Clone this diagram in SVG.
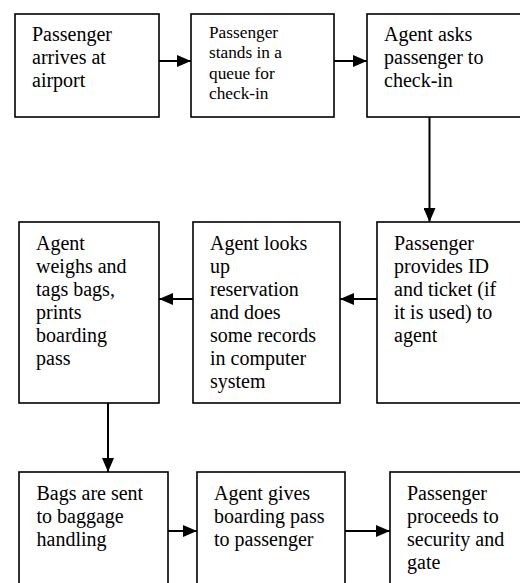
<svg xmlns="http://www.w3.org/2000/svg" width="520" height="583" viewBox="0 0 520 583">
<style>
.box{fill:#fff;stroke:#000;stroke-width:1.6}
.t{font-family:"Liberation Serif","Times New Roman",serif;font-size:20px;fill:#000}
.s{font-family:"Liberation Serif","Times New Roman",serif;font-size:17.3px;fill:#000}
.c{stroke:#000;stroke-width:2;fill:none;marker-end:url(#ah)}
</style>
<defs>
<marker id="ah" markerUnits="userSpaceOnUse" markerWidth="14" markerHeight="12" refX="14" refY="6" orient="auto">
<path d="M0,0 L14,6 L0,12 z" fill="#000"/>
</marker>
</defs>
<rect width="520" height="583" fill="#fff"/>
<g id="n1"><rect class="box" x="15" y="14" width="144" height="103"/>
<text class="t" x="32"><tspan x="32" y="41">Passenger</tspan><tspan x="32" y="64">arrives at</tspan><tspan x="32" y="87">airport</tspan></text></g>
<g id="n2"><rect class="box" x="191" y="14" width="143" height="103"/>
<text class="s"><tspan x="209" y="38">Passenger</tspan><tspan x="209" y="58">stands in a</tspan><tspan x="209" y="79">queue for</tspan><tspan x="209" y="99">check-in</tspan></text></g>
<g id="n3"><rect class="box" x="367" y="14" width="170" height="103"/>
<text class="t"><tspan x="384" y="41">Agent asks</tspan><tspan x="384" y="64">passenger to</tspan><tspan x="384" y="87">check-in</tspan></text></g>
<g id="n4"><rect class="box" x="19" y="222" width="140" height="181"/>
<text class="t"><tspan x="36" y="250">Agent</tspan><tspan x="36" y="273">weighs and</tspan><tspan x="36" y="296">tags bags,</tspan><tspan x="36" y="319">prints</tspan><tspan x="36" y="342">boarding</tspan><tspan x="36" y="365">pass</tspan></text></g>
<g id="n5"><rect class="box" x="193" y="222" width="147" height="181"/>
<text class="t"><tspan x="210" y="250">Agent looks</tspan><tspan x="210" y="273">up</tspan><tspan x="210" y="296">reservation</tspan><tspan x="210" y="319">and does</tspan><tspan x="210" y="342">some records</tspan><tspan x="210" y="365">in computer</tspan><tspan x="210" y="388">system</tspan></text></g>
<g id="n6"><rect class="box" x="377" y="222" width="160" height="181"/>
<text class="t"><tspan x="394" y="250">Passenger</tspan><tspan x="394" y="273">provides ID</tspan><tspan x="394" y="296">and ticket (if</tspan><tspan x="394" y="319">it is used) to</tspan><tspan x="394" y="342">agent</tspan></text></g>
<g id="n7"><rect class="box" x="19" y="472" width="149" height="130"/>
<text class="t"><tspan x="36.5" y="500">Bags are sent</tspan><tspan x="36.5" y="523">to baggage</tspan><tspan x="36.5" y="546">handling</tspan></text></g>
<g id="n8"><rect class="box" x="197" y="472" width="148" height="130"/>
<text class="t"><tspan x="214" y="500">Agent gives</tspan><tspan x="214" y="523">boarding pass</tspan><tspan x="214" y="546">to passenger</tspan></text></g>
<g id="n9"><rect class="box" x="390" y="472" width="150" height="130"/>
<text class="t"><tspan x="407" y="500">Passenger</tspan><tspan x="407" y="523">proceeds to</tspan><tspan x="407" y="546">security and</tspan><tspan x="407" y="569">gate</tspan></text></g>
<g id="connectors">
<line class="c" x1="159" y1="61" x2="191" y2="61"/>
<line class="c" x1="334" y1="61" x2="367" y2="61"/>
<line class="c" x1="429.5" y1="117" x2="429.5" y2="222"/>
<line class="c" x1="377" y1="299" x2="340" y2="299"/>
<line class="c" x1="193" y1="299" x2="159" y2="299"/>
<line class="c" x1="108" y1="403" x2="108" y2="472"/>
<line class="c" x1="168" y1="531" x2="197" y2="531"/>
<line class="c" x1="345" y1="531" x2="390" y2="531"/>
</g>
</svg>
